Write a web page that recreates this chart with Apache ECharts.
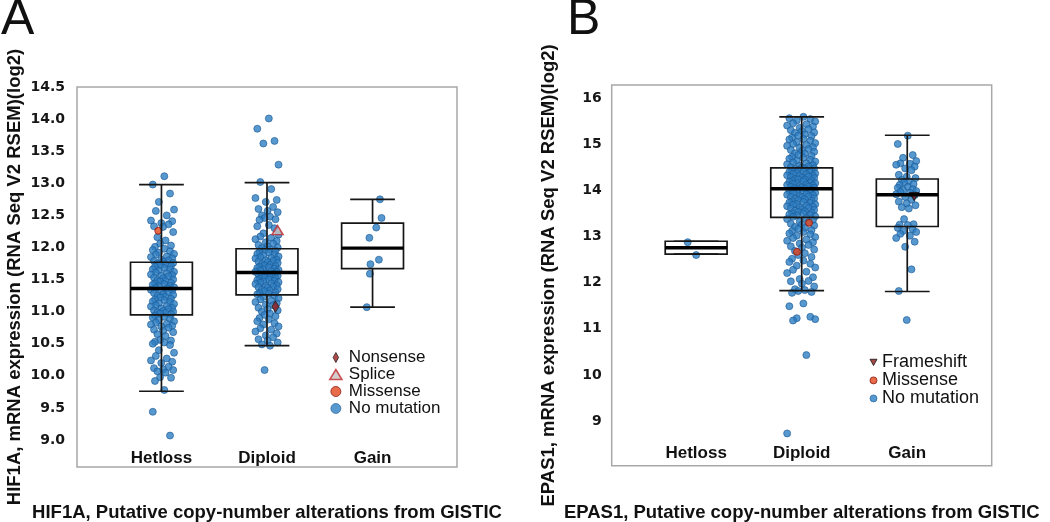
<!DOCTYPE html>
<html><head><meta charset="utf-8">
<script src="https://cdn.jsdelivr.net/npm/echarts@6/dist/echarts.min.js"></script>
<style>html,body{margin:0;padding:0;background:#fff}#c{width:1050px;height:522px}</style>
</head><body><div id="c"></div>
<script>
// ---------- DATA ----------
const categories = ['Hetloss', 'Diploid', 'Gain'];
const yTicksA = [9.0, 9.5, 10.0, 10.5, 11.0, 11.5, 12.0, 12.5, 13.0, 13.5, 14.0, 14.5];
const yTicksB = [9, 10, 11, 12, 13, 14, 15, 16];

// box statistics [lower whisker, Q1, median, Q3, upper whisker] per category
const boxA = [
  [9.76, 10.95, 11.36, 11.77, 12.98],
  [10.47, 11.26, 11.61, 11.98, 13.01],
  [11.07, 11.67, 11.99, 12.38, 12.75]
];
const boxB = [
  [12.62, 12.62, 12.76, 12.90, 12.90],
  [11.83, 13.42, 14.04, 14.49, 15.60],
  [11.81, 13.22, 13.91, 14.25, 15.20]
];

// HIF1A, no mutation
const hetlossA = [
  13.11, 12.98, 12.84, 12.71, 12.59, 12.57, 12.50, 12.42, 12.41, 12.38, 12.36, 12.33, 12.32, 12.24, 12.16, 12.11,
  12.06, 12.03, 12.01, 11.98, 11.96, 11.94, 11.92, 11.90, 11.89, 11.86, 11.85, 11.83, 11.81, 11.80, 11.79, 11.78,
  11.76, 11.75, 11.74, 11.72, 11.71, 11.70, 11.68, 11.66, 11.66, 11.64, 11.62, 11.61, 11.60, 11.58, 11.57, 11.56,
  11.55, 11.53, 11.52, 11.50, 11.49, 11.48, 11.47, 11.45, 11.44, 11.43, 11.42, 11.40, 11.40, 11.38, 11.37, 11.36,
  11.34, 11.33, 11.31, 11.30, 11.29, 11.27, 11.26, 11.25, 11.23, 11.22, 11.20, 11.19, 11.18, 11.16, 11.15, 11.13,
  11.12, 11.10, 11.09, 11.08, 11.06, 11.05, 11.04, 11.02, 11.01, 11.00, 10.99, 10.98, 10.97, 10.96,
  10.94, 10.92, 10.91, 10.89, 10.87, 10.85, 10.83, 10.81, 10.80, 10.78, 10.77, 10.75, 10.72, 10.70, 10.68, 10.65,
  10.62, 10.56, 10.55, 10.53, 10.52, 10.50, 10.48, 10.40, 10.36, 10.31, 10.27, 10.24, 10.22, 10.20, 10.14, 10.12,
  10.10, 10.09, 10.07, 10.05, 9.98, 9.97, 9.92, 9.78, 9.44, 9.07
];
const diploidA = [
  14.01, 13.85, 13.66, 13.62, 13.29, 13.02, 12.91, 12.77, 12.74, 12.71, 12.63, 12.60, 12.57, 12.55, 12.50, 12.48,
  12.46, 12.44, 12.43, 12.35, 12.33, 12.30, 12.22, 12.20, 12.17, 12.15, 12.13, 12.10, 12.08, 12.06, 12.04, 12.02,
  12.00, 11.99, 11.97, 11.96, 11.95, 11.93, 11.92, 11.90, 11.89, 11.88, 11.86, 11.85, 11.84, 11.83, 11.81, 11.80,
  11.79, 11.78, 11.77, 11.76, 11.74, 11.73, 11.72, 11.71, 11.70, 11.69, 11.68, 11.67, 11.66, 11.65, 11.64, 11.63,
  11.62, 11.62, 11.60, 11.59, 11.58, 11.57, 11.56, 11.55, 11.54, 11.53, 11.52, 11.51, 11.50, 11.49, 11.48, 11.47,
  11.46, 11.45, 11.44, 11.43, 11.41, 11.40, 11.39, 11.38, 11.37, 11.35, 11.34, 11.33, 11.32, 11.30, 11.29, 11.28,
  11.27, 11.25, 11.23, 11.21, 11.19, 11.17, 11.15, 11.13, 11.11, 11.10, 11.06, 11.04, 11.02, 11.00, 10.97, 10.95,
  10.93, 10.90, 10.88, 10.85, 10.82, 10.80, 10.77, 10.74, 10.72, 10.69, 10.66, 10.63, 10.60, 10.57, 10.55, 10.52,
  10.49, 10.47, 10.09
];
const gainA = [12.75, 12.46, 12.31, 12.15, 11.81, 11.74, 11.59, 11.07];
const gainAJitter = [0.07, 0.085, 0.035, -0.03, 0.06, -0.02, -0.025, -0.055];

// HIF1A, mutations: [category index, value]
const missenseA = [[1, 12.26]];
const nonsenseA = [[2, 11.08]];
const spliceA = [[2, 12.27]];
const missenseAJitter = [-0.03];
const nonsenseAJitter = [0.08];
const spliceAJitter = [0.10];

// EPAS1, no mutation
const hetlossB = [12.88, 12.60];
const hetlossBJitter = [-0.08, 0.0];
const diploidB = [
  15.60, 15.57, 15.55, 15.52, 15.50, 15.46, 15.44, 15.41, 15.39, 15.36, 15.33, 15.31, 15.29, 15.26, 15.25, 15.22,
  15.19, 15.18, 15.15, 15.12, 15.11, 15.08, 15.05, 15.03, 15.01, 14.99, 14.97, 14.94, 14.93, 14.90, 14.88, 14.86,
  14.84, 14.81, 14.80, 14.77, 14.75, 14.73, 14.71, 14.69, 14.67, 14.65, 14.63, 14.61, 14.59, 14.57, 14.55, 14.54,
  14.52, 14.51, 14.50,
  14.48, 14.47, 14.47, 14.45, 14.44, 14.43, 14.41, 14.40, 14.40, 14.38, 14.37, 14.36, 14.35, 14.33, 14.32, 14.32,
  14.30, 14.29, 14.28, 14.27, 14.25, 14.24, 14.24, 14.22, 14.21, 14.20, 14.19, 14.17, 14.16, 14.16, 14.14, 14.13,
  14.12, 14.11, 14.10, 14.08, 14.08, 14.07, 14.06, 14.05, 14.04,
  14.03, 14.02, 14.01, 14.00, 13.99, 13.97, 13.96, 13.95, 13.94, 13.92, 13.91, 13.90, 13.88, 13.87, 13.86, 13.85,
  13.83, 13.82, 13.81, 13.79, 13.78, 13.77, 13.75, 13.74, 13.73, 13.71, 13.70, 13.69, 13.67, 13.66, 13.65, 13.63,
  13.62, 13.61, 13.59, 13.58, 13.56, 13.55, 13.54, 13.52, 13.51, 13.50, 13.48, 13.47, 13.46, 13.44, 13.43,
  13.40, 13.38, 13.36, 13.33, 13.31, 13.28, 13.26, 13.24, 13.21, 13.19, 13.17, 13.14, 13.12, 13.10, 13.07, 13.05,
  13.02, 12.99, 12.97, 12.94, 12.91, 12.88, 12.85, 12.82, 12.79, 12.76, 12.72, 12.69, 12.64, 12.60, 12.56, 12.52,
  12.48, 12.45, 12.41, 12.37, 12.33, 12.28, 12.24, 12.21, 12.12, 12.08, 12.04, 12.03, 11.98, 11.92, 11.86, 11.84,
  11.82, 11.80, 11.78, 11.55, 11.49, 11.26, 11.23, 11.21, 11.18, 10.43, 8.73
];
const gainB = [
  15.19, 15.01, 14.77, 14.71, 14.64, 14.59, 14.58, 14.56, 14.52, 14.48, 14.44, 14.34, 14.30, 14.27, 14.23, 14.20,
  14.17, 14.14, 14.12, 14.08, 14.06, 14.03, 14.01, 13.99, 13.97, 13.95, 13.92, 13.90, 13.86, 13.80, 13.76, 13.72,
  13.68, 13.64, 13.61, 13.38, 13.27, 13.26, 13.25, 13.19, 13.16, 13.12, 13.10, 13.06, 13.02, 12.97, 12.89, 12.78,
  12.29, 11.82, 11.19
];
// EPAS1, mutations
const missenseB = [[2, 12.67], [2, 13.30]];
const missenseBJitter = [-0.045, 0.07];
const frameshiftB = [[3, 13.87]];
const frameshiftBJitter = [0.065];

// ---------- LAYOUT / STYLE ----------
const JIT = [0.15, -0.8, 0.62, -0.3, 0.95, -0.55, 0.35, -0.95, 0.8, -0.1, 0.5, -0.7, 0.05, 0.88, -0.42, 0.25, -0.2, 0.7, -0.62];
function jitterGroup(values, cat, half, shift) {
  return values.map((v, i) => [cat + shift + JIT[i % JIT.length] * half, v]);
}
function explicitGroup(values, cat, jit) {
  return values.map((v, i) => [cat + jit[i], v]);
}
function mutGroup(pairs, jit) {
  return pairs.map((p, i) => [p[0] + jit[i], p[1]]);
}

const BOX_HALF = 0.293, CAP_HALF = 0.212;
function boxRender(params, api) {
  const x = api.value(0);
  const yLo = api.coord([x, api.value(1)])[1];
  const yQ1 = api.coord([x, api.value(2)])[1];
  const yMd = api.coord([x, api.value(3)])[1];
  const yQ3 = api.coord([x, api.value(4)])[1];
  const yHi = api.coord([x, api.value(5)])[1];
  const cx = api.coord([x, api.value(3)])[0];
  const xl = api.coord([x - BOX_HALF, 0])[0], xr = api.coord([x + BOX_HALF, 0])[0];
  const cl = api.coord([x - CAP_HALF, 0])[0], cr = api.coord([x + CAP_HALF, 0])[0];
  const ls = { stroke: '#161616', lineWidth: 1.7, fill: 'none' };
  return {
    type: 'group', children: [
      { type: 'line', shape: { x1: cx, y1: yHi, x2: cx, y2: yQ3 }, style: ls },
      { type: 'line', shape: { x1: cx, y1: yQ1, x2: cx, y2: yLo }, style: ls },
      { type: 'line', shape: { x1: cl, y1: yHi, x2: cr, y2: yHi }, style: ls },
      { type: 'line', shape: { x1: cl, y1: yLo, x2: cr, y2: yLo }, style: ls },
      { type: 'rect', shape: { x: xl, y: yQ3, width: xr - xl, height: yQ1 - yQ3 }, style: ls },
      { type: 'line', shape: { x1: xl, y1: yMd, x2: xr, y2: yMd }, style: { stroke: '#000', lineWidth: 3.4 } }
    ]
  };
}

const BLUE = { color: '#2d7ec3', borderColor: '#1c5a94', borderWidth: 0.8 };
const MISSENSE = { color: '#e2461d', borderColor: '#8a1a12', borderWidth: 1 };
const NONSENSE = { color: '#9e1d1d', borderColor: '#222', borderWidth: 1 };
const SPLICE = { color: '#c8c0c0', borderColor: '#c0262a', borderWidth: 1.5 };
const FRAMESHIFT = { color: '#8e1a1a', borderColor: '#111', borderWidth: 1 };
const DIAMOND = 'path://M3,0 L6,5.5 L3,11 L0,5.5 Z';
const UP_TRI = 'path://M5.5,0 L11,9 L0,9 Z';
const DOWN_TRI = 'path://M0,0 L10,0 L5,9 Z';

const tickFont = { fontFamily: 'DejaVu Sans', fontWeight: 'bold', fontSize: 14, color: '#161616' };
const catFont = { fontFamily: 'Liberation Sans', fontWeight: 'bold', fontSize: 17, color: '#111' };
const titleFont = { fontFamily: 'Liberation Sans', fontWeight: 'bold', fontSize: 18.5, color: '#111' };
const gridStyle = { show: true, borderColor: '#a8a8a8', borderWidth: 1.5, backgroundColor: 'transparent',
  outerBoundsMode: 'none', containLabel: false };

function xAxis(gi, title, gap, margin) {
  return {
    gridIndex: gi, type: 'value', min: 0.2, max: 3.8,
    axisLine: { show: false }, axisTick: { show: false }, splitLine: { show: false },
    axisLabel: Object.assign({ inside: true, customValues: [1, 2, 3], margin: margin,
      formatter: v => categories[Math.round(v) - 1] }, catFont),
    name: title, nameLocation: 'middle', nameGap: gap, nameTextStyle: titleFont
  };
}
function yAxis(gi, min, max, ticks, fmt, margin, title, gap) {
  return {
    gridIndex: gi, type: 'value', min: min, max: max,
    axisLine: { show: false }, axisTick: { show: false }, splitLine: { show: false },
    axisLabel: Object.assign({ customValues: ticks, formatter: fmt, margin: margin }, tickFont),
    name: title, nameLocation: 'middle', nameRotate: 90, nameGap: gap, nameTextStyle: titleFont
  };
}
function scatter(name, axis, data, style, symbol, size, z) {
  return { type: 'scatter', name: name, xAxisIndex: axis, yAxisIndex: axis, data: data,
    symbol: symbol, symbolSize: size, itemStyle: style, z: z, silent: true, animation: false };
}

const chart = echarts.init(document.getElementById('c'), null, { renderer: 'canvas' });
chart.setOption({
  animation: false,
  backgroundColor: '#ffffff',
  grid: [
    Object.assign({ left: 77, top: 87, width: 380, height: 380 }, gridStyle),
    Object.assign({ left: 611.7, top: 85, width: 380, height: 380.7 }, gridStyle)
  ],
  xAxis: [
    xAxis(0, 'HIF1A, Putative copy-number alterations from GISTIC', 36.5, 0),
    xAxis(1, 'EPAS1, Putative copy-number alterations from GISTIC', 38, 4)
  ],
  yAxis: [
    yAxis(0, 8.58, 14.5, yTicksA, v => v.toFixed(1), 12, 'HIF1A, mRNA expression (RNA Seq V2 RSEM)(log2)', 53),
    yAxis(1, 8.03, 16.29, yTicksB, v => String(v), 10, 'EPAS1, mRNA expression (RNA Seq V2 RSEM)(log2)', 53)
  ],
  legend: [
    {
      orient: 'vertical', left: 329, top: 349, padding: 0, itemGap: 0, itemWidth: 16, itemHeight: 10,
      selectedMode: false,
      textStyle: { fontFamily: 'Liberation Sans', fontSize: 17, lineHeight: 15.7, color: '#111' },
      data: [
        { name: 'Nonsense', icon: DIAMOND, itemStyle: NONSENSE },
        { name: 'Splice', icon: UP_TRI, itemStyle: SPLICE },
        { name: 'Missense', icon: 'circle', itemStyle: MISSENSE },
        { name: 'No mutation', icon: 'circle', itemStyle: BLUE }
      ]
    },
    {
      orient: 'vertical', left: 869.5, top: 353.4, padding: 0, itemGap: 0, itemWidth: 7, itemHeight: 8,
      selectedMode: false,
      textStyle: { fontFamily: 'Liberation Sans', fontSize: 18, lineHeight: 16.65, color: '#111' },
      data: [
        { name: 'Frameshift', icon: DOWN_TRI, itemStyle: FRAMESHIFT },
        { name: 'Missense', icon: 'circle', itemStyle: MISSENSE },
        { name: 'No mutation', icon: 'circle', itemStyle: BLUE }
      ]
    }
  ],
  graphic: [
    { type: 'text', left: 1, top: -5, style: { text: 'A', font: '50px "Liberation Sans"', fill: '#111' } },
    { type: 'text', left: 567, top: -5, style: { text: 'B', font: '50px "Liberation Sans"', fill: '#111' } }
  ],
  series: [
    scatter('No mutation', 0, [].concat(
      jitterGroup(hetlossA, 1, 0.115, 0.01),
      jitterGroup(diploidA, 2, 0.115, 0.0),
      explicitGroup(gainA, 3, gainAJitter)), BLUE, 'circle', 7, 2),
    scatter('Missense', 0, mutGroup(missenseA, missenseAJitter), MISSENSE, 'circle', 7, 3),
    scatter('Nonsense', 0, mutGroup(nonsenseA, nonsenseAJitter), NONSENSE, DIAMOND, [7, 11], 3),
    scatter('Splice', 0, mutGroup(spliceA, spliceAJitter), SPLICE, UP_TRI, [11, 9], 3),
    { type: 'custom', xAxisIndex: 0, yAxisIndex: 0, renderItem: boxRender, z: 5, silent: true,
      encode: { x: 0, y: [1, 2, 3, 4, 5] }, data: boxA.map((b, i) => [i + 1].concat(b)) },

    scatter('No mutation', 1, [].concat(
      explicitGroup(hetlossB, 1, hetlossBJitter),
      jitterGroup(diploidB, 2, 0.14, -0.005),
      jitterGroup(gainB, 3, 0.1, -0.01)), BLUE, 'circle', 7, 2),
    scatter('Missense', 1, mutGroup(missenseB, missenseBJitter), MISSENSE, 'circle', 7, 3),
    scatter('Frameshift', 1, mutGroup(frameshiftB, frameshiftBJitter), FRAMESHIFT, DOWN_TRI, [9, 8], 3),
    { type: 'custom', xAxisIndex: 1, yAxisIndex: 1, renderItem: boxRender, z: 5, silent: true,
      encode: { x: 0, y: [1, 2, 3, 4, 5] }, data: boxB.map((b, i) => [i + 1].concat(b)) }
  ]
});
</script>
</body></html>
